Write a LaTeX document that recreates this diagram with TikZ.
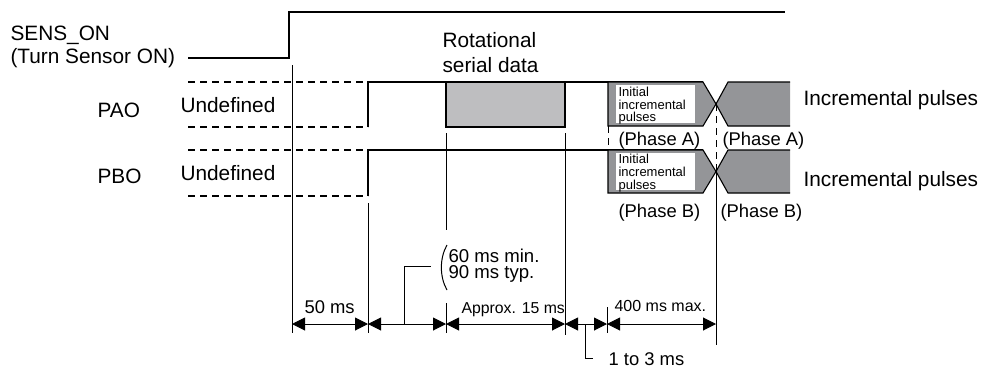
\documentclass[tikz,border=0pt]{standalone}
\usepackage{fontspec}
\setmainfont{Liberation Sans}
\usetikzlibrary{arrows.meta}
\definecolor{serialgray}{RGB}{190,190,192}
\definecolor{pulsegray}{RGB}{148,149,152}
\begin{document}
\begin{tikzpicture}[x=1pt,y=-1pt,line width=1.1pt,
  undef/.style={dash pattern=on 7pt off 5pt},
  ext/.style={line width=1pt},
  dimline/.style={line width=1pt,{Triangle[length=13pt,width=13pt]}-{Triangle[length=13pt,width=13pt]}},
  lbl/.style={inner sep=0pt,anchor=base west,font=\fontsize{20.8}{24}\selectfont},
  phase/.style={inner sep=0pt,anchor=base west,font=\fontsize{18.4}{22}\selectfont},
  dimtxt/.style={inner sep=0pt,anchor=base west,font=\fontsize{18.4}{22}\selectfont},
  smalltxt/.style={inner sep=0pt,anchor=base west,font=\fontsize{16}{19}\selectfont},
  tinytxt/.style={inner sep=0pt,anchor=base west,font=\fontsize{13}{15}\selectfont}]
\useasboundingbox (0,0) rectangle (981,367);

% SENS_ON
\draw (188,58) -- (289,58) -- (289,12) -- (785,12);
\node[lbl] (sens) at (10,40) {SENS\_ON};
\node[lbl] (turn) at (10,63) {(Turn Sensor ON)};

% PAO
\draw[undef] (188,82) -- (368,82);
\draw[undef] (188,127) -- (368,127);
\draw (368,127) -- (368,82) -- (703,82);
\filldraw[fill=serialgray] (446,82) rectangle (565,127);
\filldraw[fill=pulsegray] (608,82) -- (703,82) -- (716,104) -- (703,126) -- (608,126) -- cycle;
\fill[white] (616,85) rectangle (695,123);
\fill[pulsegray] (790,82) -- (728,82) -- (716,104) -- (728,126) -- (790,126) -- cycle;
\draw (790,82) -- (728,82) -- (716,104) -- (728,126) -- (790,126);
\node[tinytxt] (ia1) at (618,96) {Initial};
\node[tinytxt] (ia2) at (618,109) {incremental};
\node[tinytxt] (ia3) at (618,121.5) {pulses};
\node[lbl] (pao) at (97,117) {PAO};
\node[lbl] (undefa) at (180,112) {Undefined};
\node[lbl] (rot1) at (442,47) {Rotational};
\node[lbl] (rot2) at (442,72) {serial data};
\node[lbl] (inca) at (803,105) {Incremental pulses};
\node[phase] (pha1) at (618,145) {(Phase A)};
\node[phase] (pha2) at (722,145) {(Phase A)};

% dashed separators
\draw[undef,ext] (608,126) -- (608,150);
\draw[undef,ext] (716,104) -- (716,171.5);

% PBO
\draw[undef] (188,150) -- (368,150);
\draw[undef] (188,196) -- (368,196);
\draw (368,196) -- (368,150) -- (703,150);
\filldraw[fill=pulsegray] (608,150) -- (703,150) -- (716,171.5) -- (703,193) -- (608,193) -- cycle;
\fill[white] (616,153) rectangle (695,190);
\fill[pulsegray] (790,150) -- (728,150) -- (716,171.5) -- (728,193) -- (790,193) -- cycle;
\draw (790,150) -- (728,150) -- (716,171.5) -- (728,193) -- (790,193);
\node[tinytxt] (ib1) at (618,163.5) {Initial};
\node[tinytxt] (ib2) at (618,176.5) {incremental};
\node[tinytxt] (ib3) at (618,189) {pulses};
\node[lbl] (pbo) at (97,183) {PBO};
\node[lbl] (undefb) at (180,180) {Undefined};
\node[lbl] (incb) at (803,186) {Incremental pulses};
\node[phase] (phb1) at (618,217) {(Phase B)};
\node[phase] (phb2) at (720,217) {(Phase B)};

% extension lines
\coordinate (e1) at (292,333);
\coordinate (e2) at (368,333);
\coordinate (e3) at (446,333);
\coordinate (e4) at (565,335);
\coordinate (e5) at (607,333);
\coordinate (e6) at (716,345);
\draw[ext] (292,65) -- (e1);
\draw[ext] (368,203) -- (e2);
\draw[ext] (446,133) -- (446,230);
\draw[ext] (446,303) -- (e3);
\draw[ext] (565,133) -- (e4);
\draw[ext] (607,307) -- (e5);
\draw[ext] (716,171.5) -- (e6);

% dimension arrows
\coordinate (d1) at (292,324);
\coordinate (d2) at (368,324);
\coordinate (d3) at (446,324);
\coordinate (d4) at (565,324);
\coordinate (d5) at (607,324);
\coordinate (d6) at (716,324);
\draw[dimline] (d1) -- (d2);
\draw[dimline] (d2) -- (d3);
\draw[dimline] (d3) -- (d4);
\draw[dimline] (d4) -- (d5);
\draw[dimline] (d5) -- (d6);

% leaders
\draw[ext] (404,324) -- (404,266) -- (431,266);
\draw[ext] (447,245) .. controls (439.5,258) and (439.5,277) .. (447,290);
\draw[ext] (585,324) -- (585,358) -- (593,358);

% dimension texts
\node[dimtxt] (t50) at (304,313) {50 ms};
\node[smalltxt,font=\fontsize{15.8}{19}\selectfont] (t15) at (461,313) {Approx. 15 ms};
\node[smalltxt] (t400) at (614,311) {400 ms max.};
\node[inner sep=0pt,anchor=north west,align=left,font=\fontsize{18.6}{16.5}\selectfont] (t6090) at (448,248) {60 ms min.\\90 ms typ.};
\node[dimtxt] (t13) at (608,365) {1 to 3 ms};
\end{tikzpicture}
\end{document}
